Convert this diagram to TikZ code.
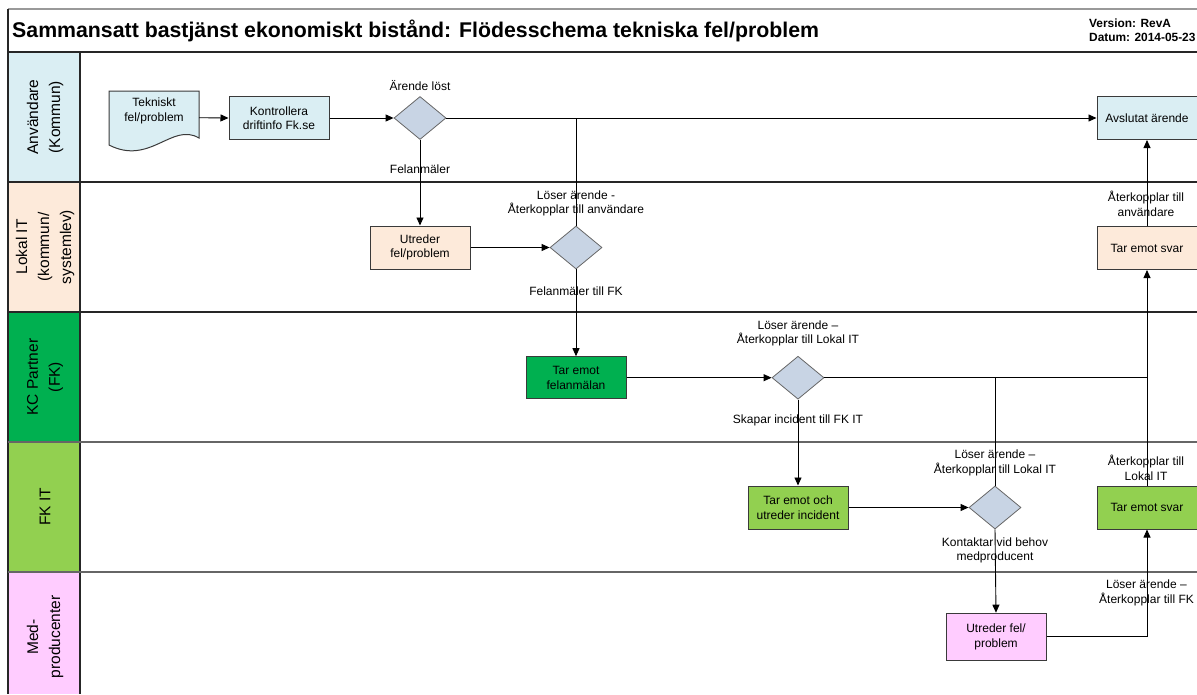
\documentclass[tikz,border=0pt]{standalone}
\usepackage{fontspec}
\setmainfont{Liberation Sans}
\usetikzlibrary{arrows.meta,shapes.geometric}
\definecolor{cUser}{HTML}{DAEEF3}
\definecolor{cLok}{HTML}{FDEADA}
\definecolor{cKC}{HTML}{00B050}
\definecolor{cFK}{HTML}{92D050}
\definecolor{cMed}{HTML}{FFCCFF}
\definecolor{cDia}{HTML}{C8D4E4}
\definecolor{cBord}{HTML}{3A3A3A}
\tikzset{
  txt/.style={font=\fontsize{12}{14.5}\selectfont, align=center, inner sep=0pt},
  box/.style={txt, draw=cBord, line width=1pt, minimum width=100, minimum height=43},
  dia/.style={diamond, draw=gray!80!black, fill=cDia, line width=0.8pt, minimum width=52, minimum height=43, inner sep=0pt},
  lbl/.style={txt},
  lanelbl/.style={font=\fontsize{15.5}{22}\selectfont, align=center, rotate=90, inner sep=0pt},
  conn/.style={line width=0.9pt, black},
  arr/.style={conn, -{Triangle[length=8pt,width=7pt]}},
  sep/.style={line width=1.1pt, black!85},
}
\begin{document}
\begin{tikzpicture}[x=1pt,y=-1pt]
\useasboundingbox (0,0) rectangle (1197,694);
% lane headers
\fill[cUser] (8,52) rectangle (80,182);
\fill[cLok] (8,182) rectangle (80,312);
\fill[cKC] (8,312) rectangle (80,442);
\fill[cFK] (8,442) rectangle (80,572);
\fill[cMed] (8,572) rectangle (80,694);
% frame
\draw[line width=1.2pt, gray!80] (8,9) -- (1197,9);
\draw[sep] (8,52) -- (1197,52);
\draw[sep] (8,9) -- (8,694);
\draw[sep] (80,52) -- (80,694);
\draw[sep] (8,182) -- (1197,182);
\draw[sep] (8,312) -- (1197,312);
\draw[sep, black!60] (8,442) -- (1197,442);
\draw[sep, black!60] (8,572) -- (1197,572);
% title
\node[anchor=west, font=\bfseries\fontsize{21.3}{24}\selectfont, inner sep=0pt] (title) at (12,30.5) {Sammansatt bastjänst ekonomiskt bistånd: Flödesschema tekniska fel/problem};
\node[anchor=west, align=left, font=\bfseries\fontsize{11.9}{14}\selectfont, inner sep=0pt] (ver) at (1089,30) {Version: RevA\\Datum: 2014-05-23};
% lane labels
\node[lanelbl] (l1) at (45,117) {Användare\\(Kommun)};
\node[lanelbl] (l2) at (45,247) {Lokal IT\\(kommun/\\systemlev)};
\node[lanelbl] (l3) at (45,377) {KC Partner\\(FK)};
\node[lanelbl] (l4) at (45,507) {FK IT};
\node[lanelbl] (l5) at (45,637) {Med-\\producenter};
% document shape
\draw[draw=cBord, fill=cUser, line width=1pt] (109,91) -- (199,91) -- (199,138) .. controls (172,122) and (150,166) .. (109,145) -- cycle;
\node[txt] (doc) at (154,111) {Tekniskt\\fel/problem};
\coordinate (docE) at (199,117.7);
% nodes
\node[box, fill=cUser] (kon) at (279,118) {Kontrollera\\driftinfo Fk.se};
\node[dia] (d1) at (420,118) {};
\node[box, fill=cUser] (avs) at (1147,118) {Avslutat ärende};
\node[box, fill=cLok] (ut1) at (420,247.5) {Utreder\\fel/problem};
\node[dia] (d2) at (576,247.5) {};
\node[box, fill=cLok] (tes1) at (1147,248) {Tar emot svar};
\node[box, fill=cKC, minimum height=42] (tef) at (576,377.7) {Tar emot\\felanmälan};
\node[dia] (d3) at (798,377.7) {};
\node[box, fill=cFK] (tou) at (798,507.5) {Tar emot och\\utreder incident};
\node[dia] (d4) at (995,507.5) {};
\node[box, fill=cFK] (tes2) at (1147,507.5) {Tar emot svar};
\node[box, fill=cMed, minimum height=47] (ut2) at (996,636.7) {Utreder fel/\\problem};
% connectors
\draw[arr] (docE) -- (kon.west);
\draw[arr] (kon.east) -- (d1.west);
\draw[arr] (d1.east) -- (avs.west);
\draw[conn] (d2.north) -- (d2.north |- d1.east);
\draw[arr] (d1.south) -- (ut1.north);
\draw[arr] (ut1.east) -- (d2.west);
\draw[arr] (d2.south) -- (tef.north);
\draw[arr] (tef.east) -- (d3.west);
\draw[conn] (d3.east) -- (tes1.south |- d3.east);
\draw[conn] (d4.north) -- (d4.north |- d3.east);
\draw[arr] (tes2.north) -- (tes1.south);
\draw[arr] (tes1.north) -- (avs.south);
\draw[arr] (d3.south) -- (tou.north);
\draw[arr] (tou.east) -- (d4.west);
\draw[arr] (d4.south) -- (ut2.north);
\draw[arr] (ut2.east) -| (tes2.south);
% labels
\node[lbl] (t1) at (420,86) {Ärende löst};
\node[lbl] (t2) at (420,169) {Felanmäler};
\node[lbl] (t3) at (576,203.5) {Löser ärende -\\Återkopplar till användare};
\node[lbl] (t4) at (576,291) {Felanmäler till FK};
\node[lbl] (t5) at (1146,204) {Återkopplar till\\användare};
\node[lbl] (t6) at (798,333.5) {Löser ärende –\\Återkopplar till Lokal IT};
\node[lbl] (t7) at (798,420) {Skapar incident till FK IT};
\node[lbl] (t8) at (995,463) {Löser ärende –\\Återkopplar till Lokal IT};
\node[lbl] (t9) at (995,550.5) {Kontaktar vid behov\\medproducent};
\node[lbl] (t10) at (1146,468) {Återkopplar till\\Lokal IT};
\node[lbl] (t11) at (1146.5,593) {Löser ärende –\\Återkopplar till FK};
\end{tikzpicture}
\end{document}
